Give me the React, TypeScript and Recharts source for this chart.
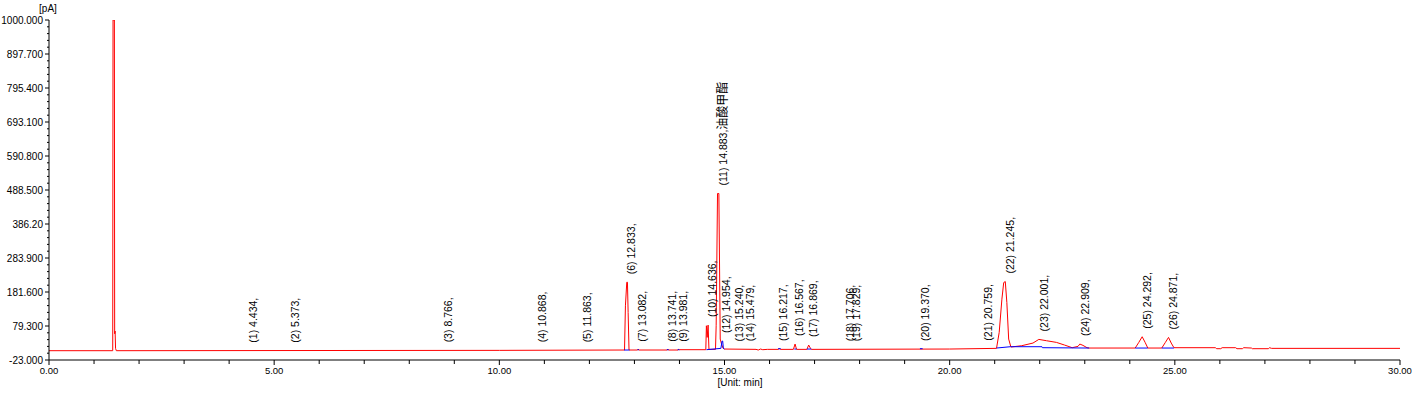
import React from "react";
import { ComposedChart, Line, Scatter, XAxis, YAxis } from "recharts";

const W = 1414;
const H = 395;
const FONT = '"Liberation Sans", Arial, "Noto Sans CJK SC", sans-serif';

// detector signal, [time min, pA]
const redSignal: [number, number][] = [
  [0, 5], [1.415, 5], [1.422, 1000], [1.452, 1000], [1.458, 56], [1.468, 64], [1.478, 12], [1.495, 5],
  [10, 6], [12.78, 7], [12.8, 140], [12.83, 211], [12.845, 211], [12.86, 120], [12.88, 7],
  [13.07, 7], [13.082, 10], [13.095, 7], [13.73, 7], [13.741, 10], [13.755, 7],
  [13.97, 7], [13.981, 9], [13.995, 8],
  [14.585, 8], [14.598, 80], [14.615, 45], [14.636, 82], [14.655, 9],
  [14.8, 9], [14.815, 80], [14.845, 478], [14.875, 478], [14.905, 40], [14.94, 22], [14.97, 12], [15.0, 10],
  [15.7, 9], [15.75, 7], [15.8, 10], [15.85, 8], [15.95, 9],
  [16.19, 9], [16.217, 11], [16.24, 9],
  [16.53, 9], [16.567, 25], [16.6, 9],
  [16.83, 9], [16.869, 22], [16.91, 12], [16.93, 9],
  [20, 10], [21.04, 12], [21.1, 60], [21.16, 160], [21.2, 210], [21.235, 213], [21.27, 150], [21.31, 40], [21.36, 16],
  [21.6, 20], [21.85, 28], [21.98, 39], [22.15, 35], [22.37, 30], [22.55, 22], [22.72, 14],
  [22.85, 18], [22.89, 25], [22.96, 21], [23.05, 14], [23.1, 13],
  [24.12, 13], [24.2, 30], [24.275, 47], [24.34, 30], [24.4, 13],
  [24.71, 13], [24.79, 30], [24.86, 45], [24.92, 28], [24.98, 14],
  [25.9, 14], [25.93, 11], [26.02, 11], [26.05, 14], [26.35, 14], [26.38, 11], [26.5, 11], [26.53, 14],
  [26.7, 13], [26.72, 11], [27.08, 11], [27.1, 14], [27.15, 12], [30, 12],
];

// integration baselines, null = gap
const blueBaseline: [number, number | null][] = [
  [12.77, 7], [12.89, 7], [12.9, null],
  [13.07, 8], [13.1, 8], [13.11, null],
  [13.72, 8], [13.76, 8], [13.77, null],
  [13.96, 8], [14.0, 8], [14.01, null],
  [14.6, 8], [14.92, 12], [14.945, 34], [14.96, 34], [14.975, 12], [15.0, 10], [15.01, null],
  [16.19, 11], [16.25, 11], [16.26, null],
  [16.55, 10], [16.6, 10], [16.61, null],
  [16.83, 10], [16.93, 10], [16.94, null],
  [19.34, 11], [19.4, 11], [19.41, null],
  [21.04, 13], [21.35, 17], [22.05, 17], [22.06, 14], [23.1, 13], [23.11, null],
  [24.12, 13], [24.4, 13], [24.41, null],
  [24.71, 13], [24.98, 13],
];

const peakNo = [1, 2, 3, 4, 5, 6, 7, 8, 9, 10, 11, 12, 13, 14, 15, 16, 17, 18, 19, 20, 21, 22, 23, 24, 25, 26];
const peakTimes = [
  "4.434", "5.373", "8.766", "10.868", "11.863", "12.833", "13.082", "13.741", "13.981", "14.636",
  "14.883", "14.954", "15.240", "15.479", "16.217", "16.567", "16.869", "17.706", "17.829", "19.370",
  "20.759", "21.245", "22.001", "22.909", "24.292", "24.871",
];
const peakHeights = [5, 5, 6, 6, 6, 211, 8, 8, 8, 82, 478, 34, 9, 9, 10, 25, 22, 9, 9, 10, 11, 213, 39, 25, 47, 45];
const peakNames: Record<number, string> = { 11: "油酸甲酯" };

const xMajor = [0, 5, 10, 15, 20, 25, 30];
const xTickLabels = ["0.00", "5.00", "10.00", "15.00", "20.00", "25.00", "30.00"];
const yMajor = [-23, 79.3, 181.6, 283.9, 386.2, 488.5, 590.8, 693.1, 795.4, 897.7, 1000];
const yTickLabels = [
  "-23.000", "79.300", "181.600", "283.900", "386.20", "488.500",
  "590.800", "693.100", "795.400", "897.700", "1000.000",
];

const redData = redSignal.map(([t, v]) => ({ t, v }));
const blueData = blueBaseline.map(([t, v]) => ({ t, v }));
const peakData = peakNo.map((n, i) => ({
  t: Number(peakTimes[i]),
  v: peakHeights[i],
  text: `(${n}) ${peakTimes[i]},`,
  name: peakNames[n] ?? "",
}));

// minor ticks: 1 min on x, 5 parts per step on y
const xTicks: number[] = [];
for (let i = 0; i <= 30; i++) xTicks.push(i);
const yTicks: number[] = [];
for (let i = 0; i < yMajor.length - 1; i++) {
  const step = (yMajor[i + 1] - yMajor[i]) / 5;
  for (let k = 0; k < 5; k++) yTicks.push(yMajor[i] + k * step);
}
yTicks.push(yMajor[yMajor.length - 1]);

function XTick(props: any) {
  const { x, y, payload } = props;
  const idx = xMajor.indexOf(payload.value);
  const major = idx >= 0;
  return (
    <g>
      <line x1={x} x2={x} y1={y} y2={y + (major ? 5 : 4)} stroke="#000" />
      {major && (
        <text x={x} y={y + 14} textAnchor="middle" fontSize={9.5} fontFamily={FONT} fill="#000">
          {xTickLabels[idx]}
        </text>
      )}
    </g>
  );
}

function YTick(props: any) {
  const { x, y, payload } = props;
  const idx = yMajor.findIndex((m) => Math.abs(m - payload.value) < 1e-6);
  const major = idx >= 0;
  return (
    <g>
      <line x1={x - (major ? 4 : 2)} x2={x} y1={y} y2={y} stroke="#000" />
      {major && (
        <text x={x - 6} y={y} dy="0.35em" textAnchor="end" fontSize={10} fontFamily={FONT} fill="#000">
          {yTickLabels[idx]}
        </text>
      )}
    </g>
  );
}

function PeakLabel(props: any) {
  const { cx, cy, payload } = props;
  const tx = cx + 8;
  const ty = cy - 8;
  return (
    <text
      x={tx}
      y={ty}
      transform={`rotate(-90, ${tx}, ${ty})`}
      fontSize={10.5}
      fontFamily={FONT}
      fill="#000"
    >
      {payload.text}
      {payload.name && <tspan fontSize={12}>{payload.name}</tspan>}
    </text>
  );
}

export default function App() {
  return (
    <div style={{ position: "absolute", left: 0, top: 0, width: W, height: H, background: "#fff" }}>
      <ComposedChart width={W} height={H} margin={{ top: 20, right: 14, bottom: 0, left: 0 }}>
        <XAxis
          type="number"
          dataKey="t"
          domain={[0, 30]}
          ticks={xTicks}
          interval={0}
          height={35}
          tickSize={0}
          tickMargin={0}
          tickLine={false}
          tick={<XTick />}
          axisLine={{ stroke: "#000" }}
          allowDataOverflow
        />
        <YAxis
          type="number"
          domain={[-23, 1000]}
          ticks={yTicks}
          interval={0}
          width={49}
          tickSize={0}
          tickMargin={0}
          tickLine={false}
          tick={<YTick />}
          axisLine={{ stroke: "#000" }}
          allowDataOverflow
        />
        <Line data={redData} dataKey="v" type="linear" stroke="#ff0000" strokeWidth={1} dot={false} isAnimationActive={false} />
        <Line data={blueData} dataKey="v" type="linear" stroke="#0000ff" strokeWidth={1} dot={false} isAnimationActive={false} />
        <Scatter data={peakData} dataKey="v" shape={PeakLabel} isAnimationActive={false} />
      </ComposedChart>
      <div style={{ position: "absolute", left: 28, top: 3, width: 40, textAlign: "center", fontSize: 10, fontFamily: FONT, lineHeight: "12px" }}>
        [pA]
      </div>
      <div style={{ position: "absolute", left: 690, top: 377, width: 100, textAlign: "center", fontSize: 10, fontFamily: FONT, lineHeight: "12px" }}>
        [Unit: min]
      </div>
    </div>
  );
}
